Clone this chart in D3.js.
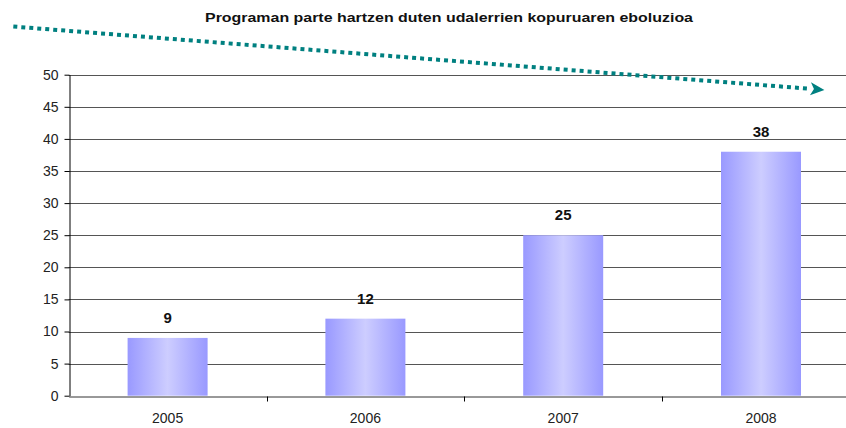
<!DOCTYPE html>
<html>
<head>
<meta charset="utf-8">
<script src="https://cdn.jsdelivr.net/npm/d3@7"></script>
<style>
  html, body { margin: 0; padding: 0; background: #fff; }
  svg { display: block; }
</style>
</head>
<body>
<svg id="chart" width="846" height="428"></svg>
<script>
// data
const years = ['2005', '2006', '2007', '2008'];
const counts = [9, 12, 25, 38];
const yTicks = [0, 5, 10, 15, 20, 25, 30, 35, 40, 45, 50];
const chartTitle = 'Programan parte hartzen duten udalerrien kopuruaren eboluzioa';
// trend arrow: position in category units (0 = first bar centre) and value units
const trendPos = [-0.78, 3.25];
const trendVal = [57.5, 47.8];

const W = 846, H = 428;
const margin = { top: 74.7, left: 68.7, bottom: H - 395.7 };
const plotW = 4 * 197.8;

const svg = d3.select('#chart');

const x = d3.scaleBand()
    .domain(years)
    .range([margin.left, margin.left + plotW])
    .paddingInner(0)
    .paddingOuter(0);

const y = d3.scaleLinear()
    .domain([0, 50])
    .range([H - margin.bottom, margin.top]);

// position scale for the trend arrow (index -> pixel, centred on bands)
const xPos = d3.scaleLinear()
    .domain([0, 1])
    .range([x(years[0]) + x.bandwidth() / 2, x(years[1]) + x.bandwidth() / 2]);

// gradient for bars
const defs = svg.append('defs');
const grad = defs.append('linearGradient')
    .attr('id', 'barGrad')
    .attr('x1', '0%').attr('x2', '100%').attr('y1', '0%').attr('y2', '0%');
grad.append('stop').attr('offset', '0%').attr('stop-color', '#9999ff');
grad.append('stop').attr('offset', '50%').attr('stop-color', '#cdcdff');
grad.append('stop').attr('offset', '100%').attr('stop-color', '#9999ff');

// gridlines
svg.append('g')
    .selectAll('line')
    .data(yTicks.filter(d => d > 0))
    .join('line')
    .attr('x1', margin.left)
    .attr('x2', margin.left + plotW)
    .attr('y1', d => Math.round(y(d)) + 0.5)
    .attr('y2', d => Math.round(y(d)) + 0.5)
    .attr('stroke', '#555')
    .attr('stroke-width', 1);

// bars
const barW = 80;
svg.append('g')
    .selectAll('rect')
    .data(counts)
    .join('rect')
    .attr('x', (d, i) => x(years[i]) + x.bandwidth() / 2 - barW / 2)
    .attr('width', barW)
    .attr('y', d => y(d))
    .attr('height', d => y(0) - y(d))
    .attr('fill', 'url(#barGrad)');

// value labels
svg.append('g')
    .selectAll('text')
    .data(counts)
    .join('text')
    .attr('x', (d, i) => x(years[i]) + x.bandwidth() / 2)
    .attr('y', d => y(d) - 15)
    .attr('text-anchor', 'middle')
    .attr('font-family', 'Liberation Sans, Arial, sans-serif')
    .attr('font-weight', 'bold')
    .attr('font-size', 15)
    .attr('fill', '#111')
    .text(d => d);

// y axis
const yAxis = svg.append('g')
    .attr('transform', `translate(${Math.round(margin.left) + 0.5},0)`)
    .call(d3.axisLeft(y).tickValues(yTicks).tickSize(5).tickPadding(6).tickSizeOuter(0));
yAxis.select('.domain').attr('stroke', '#000');
yAxis.selectAll('.tick line').attr('stroke', '#000');
yAxis.selectAll('.tick text')
    .attr('font-family', 'Liberation Sans, Arial, sans-serif')
    .attr('font-size', 14)
    .attr('fill', '#222');

// x axis
const xAxis = svg.append('g')
    .attr('transform', `translate(0,${Math.round(y(0)) + 0.5})`)
    .call(d3.axisBottom(x).tickSize(0).tickPadding(17).tickSizeOuter(0));
xAxis.select('.domain').attr('stroke', '#333');
xAxis.selectAll('.tick text')
    .attr('font-family', 'Liberation Sans, Arial, sans-serif')
    .attr('font-size', 14)
    .attr('fill', '#222');
// tick marks at band boundaries
xAxis.append('g')
    .selectAll('line')
    .data(years.slice(1))
    .join('line')
    .attr('x1', d => Math.round(x(d)) + 0.5)
    .attr('x2', d => Math.round(x(d)) + 0.5)
    .attr('y1', 0)
    .attr('y2', 5)
    .attr('stroke', '#000');

// title
svg.append('text')
    .attr('x', 449)
    .attr('y', 22)
    .attr('text-anchor', 'middle')
    .attr('font-family', 'Liberation Sans, Arial, sans-serif')
    .attr('font-weight', 'bold')
    .attr('font-size', 13)
    .attr('textLength', 488)
    .attr('lengthAdjust', 'spacingAndGlyphs')
    .attr('fill', '#111')
    .text(chartTitle);

// dotted trend arrow
const x1 = xPos(trendPos[0]), y1 = y(trendVal[0]);
const x2 = xPos(trendPos[1]), y2 = y(trendVal[1]);
svg.append('line')
    .attr('x1', x1).attr('y1', y1)
    .attr('x2', x2).attr('y2', y2)
    .attr('stroke', '#008080')
    .attr('stroke-width', 4)
    .attr('stroke-dasharray', '4 4');

// arrow head drawn at the end of the line
const len = Math.hypot(x2 - x1, y2 - y1);
const ux = (x2 - x1) / len, uy = (y2 - y1) / len;   // along the line
const nx = -uy, ny = ux;                            // normal
const headLen = 14, headHalf = 6.5, notch = 3.5;
const head = [
    [x2 + ux * headLen, y2 + uy * headLen],
    [x2 + nx * headHalf, y2 + ny * headHalf],
    [x2 + ux * notch, y2 + uy * notch],
    [x2 - nx * headHalf, y2 - ny * headHalf]
];
svg.append('path')
    .attr('d', 'M' + head.map(p => p.join(',')).join('L') + 'Z')
    .attr('fill', '#008080');
</script>
</body>
</html>
